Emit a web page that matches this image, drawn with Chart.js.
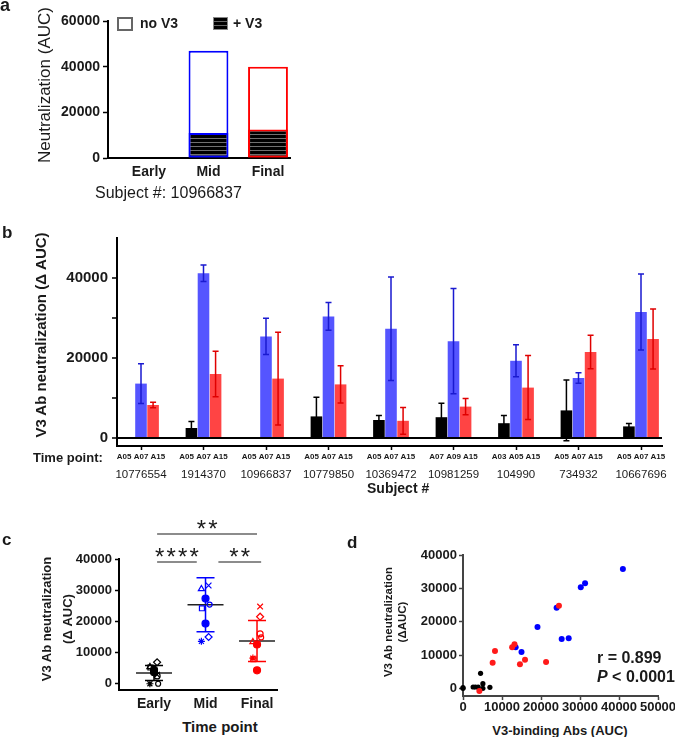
<!DOCTYPE html>
<html>
<head>
<meta charset="utf-8">
<script src="https://cdn.jsdelivr.net/npm/chart.js@4"></script>
<style>
  body { margin: 0; background: #fff; }
  #page { position: relative; width: 675px; height: 737px; overflow: hidden; font-family: "Liberation Sans", Arial, sans-serif; color: #1a1a1a; }
  canvas { position: absolute; }
  .t { position: absolute; white-space: nowrap; line-height: 1; }
  .rot { transform: translate(-50%, -50%) rotate(-90deg); text-align: center; }
  .b { font-weight: bold; }
</style>
</head>
<body>
<div id="page">
  <canvas id="ca" width="300" height="185" style="left:0px;top:0px"></canvas>
  <canvas id="cb" width="700" height="257" style="left:0px;top:225px"></canvas>
  <canvas id="cc" width="300" height="215" style="left:0px;top:500px"></canvas>
  <canvas id="cd" width="360" height="175" style="left:330px;top:540px"></canvas>

  <div class="t b" style="left:0;top:-4px;font-size:18px">a</div>
  <div class="t b" style="left:2px;top:224px;font-size:17px">b</div>
  <div class="t b" style="left:2px;top:531px;font-size:17px">c</div>
  <div class="t b" style="left:347px;top:534px;font-size:17px">d</div>

  <!-- panel a -->
  <div class="t rot" style="left:44px;top:85px;font-size:17px">Neutralization (AUC)</div>
  <div class="t" style="left:95px;top:185px;font-size:16px">Subject #: 10966837</div>
  <div style="position:absolute;left:117px;top:17px;width:12px;height:10px;border:2px solid #666;background:#fff"></div>
  <div class="t b" style="left:140px;top:16px;font-size:14px">no V3</div>
  <div style="position:absolute;left:213px;top:17px;width:13px;height:11px;border:1px solid #888;background:repeating-linear-gradient(#000 0 3px,#666 3px 4px)"></div>
  <div class="t b" style="left:233px;top:16px;font-size:14px">+ V3</div>

  <!-- panel b -->
  <div class="t rot b" style="left:40px;top:335px;font-size:15px">V3 Ab neutralization (Δ AUC)</div>
  <div class="t b" style="left:33px;top:451px;font-size:13px">Time point:</div>
  <div class="t b" style="left:367px;top:481px;font-size:14px">Subject #</div>

  <!-- panel c -->
  <div class="t rot b" style="left:57px;top:619px;font-size:13px;line-height:21px">V3 Ab neutralization<br>(Δ AUC)</div>
  <div class="t b" style="left:220px;top:719px;font-size:15px;transform:translateX(-50%)">Time point</div>

  <!-- panel d -->
  <div class="t rot b" style="left:395px;top:622px;font-size:11.5px;line-height:14px">V3 Ab neutralization<br>(ΔAUC)</div>
  <div class="t b" style="left:560px;top:724px;font-size:13px;transform:translateX(-50%)">V3-binding Abs (AUC)</div>
  <div class="t b" style="left:597px;top:650px;font-size:16px">r = 0.899</div>
  <div class="t b" style="left:597px;top:669px;font-size:16px"><i>P</i> &lt; 0.0001</div>
</div>

<script>
// ---- panel a: one subject, neutralization with / without V3 peptide
const stagesA = ["Early", "Mid", "Final"];
const noV3 = [0, 47000, 40000];
const plusV3 = [0, 11000, 12500];

// ---- panel b: per subject, V3 Ab neutralization (mean, SD)
const subjects = ["10776554", "1914370", "10966837", "10779850", "10369472", "10981259", "104990", "734932", "10667696"];
const timepoints = ["A05 A07 A15", "A05 A07 A15", "A05 A07 A15", "A05 A07 A15", "A05 A07 A15", "A07 A09 A15", "A03 A05 A15", "A05 A07 A15", "A05 A07 A15"];
const earlyVals = [0, 2500, 0, 5400, 4500, 5200, 3700, 6900, 2900];
const earlySD = [0, 1650, 0, 4800, 1100, 3500, 1900, 7600, 750];
const midVals = [13600, 41200, 25400, 30400, 27300, 24200, 19300, 15000, 31500];
const midSD = [4950, 2050, 4550, 3450, 12950, 13150, 4000, 1300, 9500];
const finalVals = [8250, 16000, 14850, 13400, 4300, 7850, 12600, 21500, 24750];
const finalSD = [700, 5700, 11600, 4650, 3350, 2050, 8000, 4200, 7500];

// ---- panel c: significance
const comparisons = [["Early", "Mid", "****"], ["Mid", "Final", "**"], ["Early", "Final", "**"]];

// ---- panel d: binding vs neutralization
const bindEarly = [0, 4500, 2600, 3200, 3900, 5100, 5100, 6900, 0];
const neutEarly = [0, 4500, 400, 400, 400, 1400, 0, 300, 200];
const bindMid = [41000, 31300, 30200, 24000, 19100, 27100, 25300, 15000, 13500];
const neutMid = [35800, 31500, 30300, 24200, 18400, 15000, 14800, 10900, 12300];
const bindFinal = [24600, 13200, 12600, 8200, 7600, 15900, 14600, 21300, 4200];
const neutFinal = [24800, 13200, 12300, 11200, 7700, 8600, 7200, 7900, -800];

Chart.defaults.font.family = '"Liberation Sans", Arial, sans-serif';
Chart.defaults.color = '#1a1a1a';

const BLUE = '#5555ff', RED = '#ff4444';
const boldFont = size => ({ size: size, weight: 'bold' });
const noPlugins = { legend: { display: false }, tooltip: { enabled: false } };

function stripes() {
  const c = document.createElement('canvas');
  c.width = 4; c.height = 4;
  const g = c.getContext('2d');
  g.fillStyle = '#000'; g.fillRect(0, 0, 4, 4);
  g.fillStyle = '#707070'; g.fillRect(0, 2, 4, 1);
  return g.createPattern(c, 'repeat');
}

// ---------- a ----------
const colorsA = ['#000', '#0000ff', '#ff0000'];
new Chart(document.getElementById('ca'), {
  type: 'bar',
  data: {
    labels: stagesA.map((_, i) => i + 1),
    datasets: [
      { label: '+ V3', data: plusV3, backgroundColor: stripes(), borderColor: colorsA, borderWidth: 2,
        borderSkipped: false, grouped: false, barPercentage: 0.67, categoryPercentage: 1 },
      { label: 'no V3', data: noV3, backgroundColor: '#fff', borderColor: colorsA, borderWidth: 2,
        borderSkipped: false, grouped: false, barPercentage: 0.67, categoryPercentage: 1 }
    ]
  },
  options: {
    responsive: false, animation: false,
    layout: { padding: { left: 0, top: 21, right: 10, bottom: 0 } },
    plugins: noPlugins,
    scales: {
      x: {
        type: 'linear', min: 0.311, max: 3.37, offset: false,
        afterBuildTicks: s => { s.ticks = stagesA.map((_, i) => ({ value: i + 1 })); },
        afterFit: s => { s.height = 27; },
        grid: { display: false, drawTicks: false, offset: false },
        border: { color: '#000', width: 2 },
        ticks: { padding: 6, autoSkip: false, maxRotation: 0, font: boldFont(14), callback: v => stagesA[v - 1] }
      },
      y: {
        min: 0, max: 60000,
        afterBuildTicks: s => { s.ticks = [0, 20000, 40000, 60000].map(v => ({ value: v })); },
        afterFit: s => { s.width = 108; },
        grid: { drawOnChartArea: false, tickLength: 5, color: '#000', tickWidth: 1.5 },
        border: { color: '#000', width: 2 },
        ticks: { padding: 3, font: boldFont(14), callback: v => String(v) }
      }
    }
  }
});

// ---------- b ----------
const errorBars = {
  id: 'errorBars',
  afterDatasetsDraw(chart) {
    const ctx = chart.ctx, y = chart.scales.y;
    chart.data.datasets.forEach((ds, i) => {
      chart.getDatasetMeta(i).data.forEach((bar, j) => {
        const v = ds.data[j], e = ds.errors[j];
        if (!v) return;
        const top = y.getPixelForValue(v + e), bot = y.getPixelForValue(v - e);
        ctx.save();
        ctx.strokeStyle = ds.errColor;
        ctx.lineWidth = 1.5;
        ctx.beginPath();
        ctx.moveTo(bar.x, top); ctx.lineTo(bar.x, bot);
        ctx.moveTo(bar.x - 3, top); ctx.lineTo(bar.x + 3, top);
        ctx.moveTo(bar.x - 3, bot); ctx.lineTo(bar.x + 3, bot);
        ctx.stroke();
        ctx.restore();
      });
    });
  }
};

const groupTicks = s => { s.ticks = subjects.map((_, i) => ({ value: i + 1 })); };
const barOpts = { categoryPercentage: 0.58, barPercentage: 0.96 };
new Chart(document.getElementById('cb'), {
  type: 'bar',
  data: {
    labels: subjects.map((_, i) => i + 1),
    datasets: [
      Object.assign({ label: 'Early', data: earlyVals, errors: earlySD, backgroundColor: '#000', errColor: '#000' }, barOpts),
      Object.assign({ label: 'Mid', data: midVals, errors: midSD, backgroundColor: BLUE, errColor: '#1a1ad0' }, barOpts),
      Object.assign({ label: 'Final', data: finalVals, errors: finalSD, backgroundColor: RED, errColor: '#e00000' }, barOpts)
    ]
  },
  options: {
    responsive: false, animation: false,
    layout: { padding: { left: 0, top: 12, right: 38, bottom: 0 } },
    plugins: noPlugins,
    scales: {
      x: {
        type: 'linear', min: 0.616, max: 9.336, offset: false, weight: 0,
        afterBuildTicks: groupTicks,
        afterFit: s => { s.height = 18; },
        grid: { drawOnChartArea: false, offset: false, tickLength: 4, color: '#000', tickWidth: 1.5 },
        border: { color: '#000', width: 2 },
        ticks: { padding: 2, autoSkip: false, maxRotation: 0, font: boldFont(8), callback: v => timepoints[v - 1] }
      },
      x2: {
        type: 'linear', position: 'bottom', min: 0.616, max: 9.336, offset: false, weight: 1,
        afterBuildTicks: groupTicks,
        afterFit: s => { s.height = 18; },
        grid: { display: false, drawTicks: false },
        border: { display: false },
        ticks: { padding: 4, autoSkip: false, maxRotation: 0, font: { size: 11.5 }, callback: v => subjects[v - 1] }
      },
      y: {
        min: -2000, max: 50000,
        afterBuildTicks: s => { s.ticks = [0, 10000, 20000, 30000, 40000].map(v => ({ value: v })); },
        afterFit: s => { s.width = 117; },
        grid: {
          color: c => (c.tick && c.tick.value === 0 ? '#000' : 'rgba(0,0,0,0)'),
          lineWidth: 2, tickColor: '#000', tickLength: 5, tickWidth: 1.5
        },
        border: { color: '#000', width: 2 },
        ticks: { padding: 4, font: boldFont(15), callback: v => (v % 20000 === 0 ? String(v) : '') }
      }
    }
  },
  plugins: [errorBars]
});

// ---------- c ----------
const markers = ['star', 'circle', 'circle', 'triangle', 'circle', 'rect', 'circle', 'rectRot', 'crossRot'];
const filled = [true, false, false, false, true, false, true, false, false];
const radii = [3.5, 3, 2.5, 3.5, 3.5, 3.5, 3.5, 3.5, 4];
const jitter = [-0.08, 0.06, 0.08, -0.08, 0, -0.07, 0, 0.06, 0.06];

function dotSet(label, vals, pos, color) {
  return {
    label: label, values: vals, color: color,
    data: vals.map((v, i) => ({ x: pos + jitter[i], y: v })),
    pointStyle: markers, pointRadius: radii, borderWidth: 1.2,
    borderColor: color, backgroundColor: filled.map(f => (f ? color : 'rgba(0,0,0,0)'))
  };
}

const meanSD = {
  id: 'meanSD',
  beforeDatasetsDraw(chart) {
    const ctx = chart.ctx, x = chart.scales.x, y = chart.scales.y;
    chart.data.datasets.forEach((ds, k) => {
      const n = ds.values.length;
      const m = ds.values.reduce((a, b) => a + b, 0) / n;
      const sd = Math.sqrt(ds.values.reduce((a, b) => a + (b - m) * (b - m), 0) / (n - 1));
      const cx = x.getPixelForValue(k + 1);
      const yt = y.getPixelForValue(m + sd), yb = y.getPixelForValue(m - sd), ym = y.getPixelForValue(m);
      ctx.save();
      ctx.lineWidth = 1.5;
      ctx.strokeStyle = ds.color;
      ctx.beginPath();
      ctx.moveTo(cx, yt); ctx.lineTo(cx, yb);
      ctx.moveTo(cx - 9, yt); ctx.lineTo(cx + 9, yt);
      ctx.moveTo(cx - 9, yb); ctx.lineTo(cx + 9, yb);
      ctx.stroke();
      ctx.strokeStyle = '#222';
      ctx.beginPath();
      ctx.moveTo(cx - 18, ym); ctx.lineTo(cx + 18, ym);
      ctx.stroke();
      ctx.restore();
    });
  }
};

const bracketSpan = [[0.06, -0.17], [0.25, 0.08], [0.06, 0]];
const bracketRise = [-3, -3, 25];
const sigBrackets = {
  id: 'sigBrackets',
  afterDraw(chart) {
    const ctx = chart.ctx, x = chart.scales.x, top = chart.chartArea.top;
    comparisons.forEach((cmp, i) => {
      const x1 = x.getPixelForValue(stagesA.indexOf(cmp[0]) + 1 + bracketSpan[i][0]);
      const x2 = x.getPixelForValue(stagesA.indexOf(cmp[1]) + 1 + bracketSpan[i][1]);
      const ly = top - bracketRise[i];
      ctx.save();
      ctx.strokeStyle = '#666';
      ctx.lineWidth = 1.5;
      ctx.beginPath(); ctx.moveTo(x1, ly); ctx.lineTo(x2, ly); ctx.stroke();
      ctx.fillStyle = '#1a1a1a';
      ctx.font = '24px "Liberation Sans", Arial, sans-serif';
      ctx.textAlign = 'center';
      ctx.textBaseline = 'alphabetic';
      const stars = cmp[2].length, mid = (x1 + x2) / 2;
      for (let s = 0; s < stars; s++) {
        ctx.fillText('*', mid + (s - (stars - 1) / 2) * 11.5, ly - 10 + 13);
      }
      ctx.restore();
    });
  }
};

new Chart(document.getElementById('cc'), {
  type: 'scatter',
  data: {
    datasets: [
      dotSet('Early', earlyVals, 1, '#000'),
      dotSet('Mid', midVals, 2, '#0000ff'),
      dotSet('Final', finalVals, 3, '#ff0000')
    ]
  },
  options: {
    responsive: false, animation: false,
    layout: { padding: { left: 0, top: 59, right: 23, bottom: 0 } },
    plugins: noPlugins,
    scales: {
      x: {
        type: 'linear', min: 0.32, max: 3.388,
        afterBuildTicks: s => { s.ticks = stagesA.map((_, i) => ({ value: i + 1 })); },
        afterFit: s => { s.height = 25; },
        grid: { display: false, drawTicks: false },
        border: { color: '#000', width: 2 },
        ticks: { padding: 6, autoSkip: false, maxRotation: 0, font: boldFont(14), callback: v => stagesA[v - 1] }
      },
      y: {
        min: -2000, max: 40000,
        afterBuildTicks: s => { s.ticks = [0, 10000, 20000, 30000, 40000].map(v => ({ value: v })); },
        afterFit: s => { s.width = 119; },
        grid: { drawOnChartArea: false, tickLength: 4, color: '#000', tickWidth: 1.5 },
        border: { color: '#000', width: 2 },
        ticks: { padding: 3, font: boldFont(13), callback: v => String(v) }
      }
    }
  },
  plugins: [meanSD, sigBrackets]
});

// ---------- d ----------
const pairs = (xs, ys) => xs.map((v, i) => ({ x: v, y: ys[i] }));
new Chart(document.getElementById('cd'), {
  type: 'scatter',
  data: {
    datasets: [
      { label: 'Final', data: pairs(bindFinal, neutFinal), backgroundColor: '#ff1a1a', borderWidth: 0, pointRadius: 3, clip: false },
      { label: 'Mid', data: pairs(bindMid, neutMid), backgroundColor: '#0000ff', borderWidth: 0, pointRadius: 3, clip: false },
      { label: 'Early', data: pairs(bindEarly, neutEarly), backgroundColor: '#000', borderWidth: 0, pointRadius: 2.6, clip: false }
    ]
  },
  options: {
    responsive: false, animation: false,
    layout: { padding: { left: 0, top: 15, right: 32, bottom: 0 } },
    plugins: noPlugins,
    scales: {
      x: {
        type: 'linear', min: 0, max: 50000,
        afterBuildTicks: s => { s.ticks = [0, 10000, 20000, 30000, 40000, 50000].map(v => ({ value: v })); },
        afterFit: s => { s.height = 19; },
        grid: { drawOnChartArea: false, tickLength: 4, color: '#444', tickWidth: 1.5 },
        border: { color: '#444', width: 2 },
        ticks: { padding: 0, autoSkip: false, maxRotation: 0, font: boldFont(13), callback: v => String(v) }
      },
      y: {
        min: -2300, max: 40000,
        afterBuildTicks: s => { s.ticks = [0, 10000, 20000, 30000, 40000].map(v => ({ value: v })); },
        afterFit: s => { s.width = 133; },
        grid: { drawOnChartArea: false, tickLength: 4, color: '#444', tickWidth: 1.5 },
        border: { color: '#444', width: 2 },
        ticks: { padding: 2, font: boldFont(13), callback: v => String(v) }
      }
    }
  }
});
</script>
</body>
</html>
